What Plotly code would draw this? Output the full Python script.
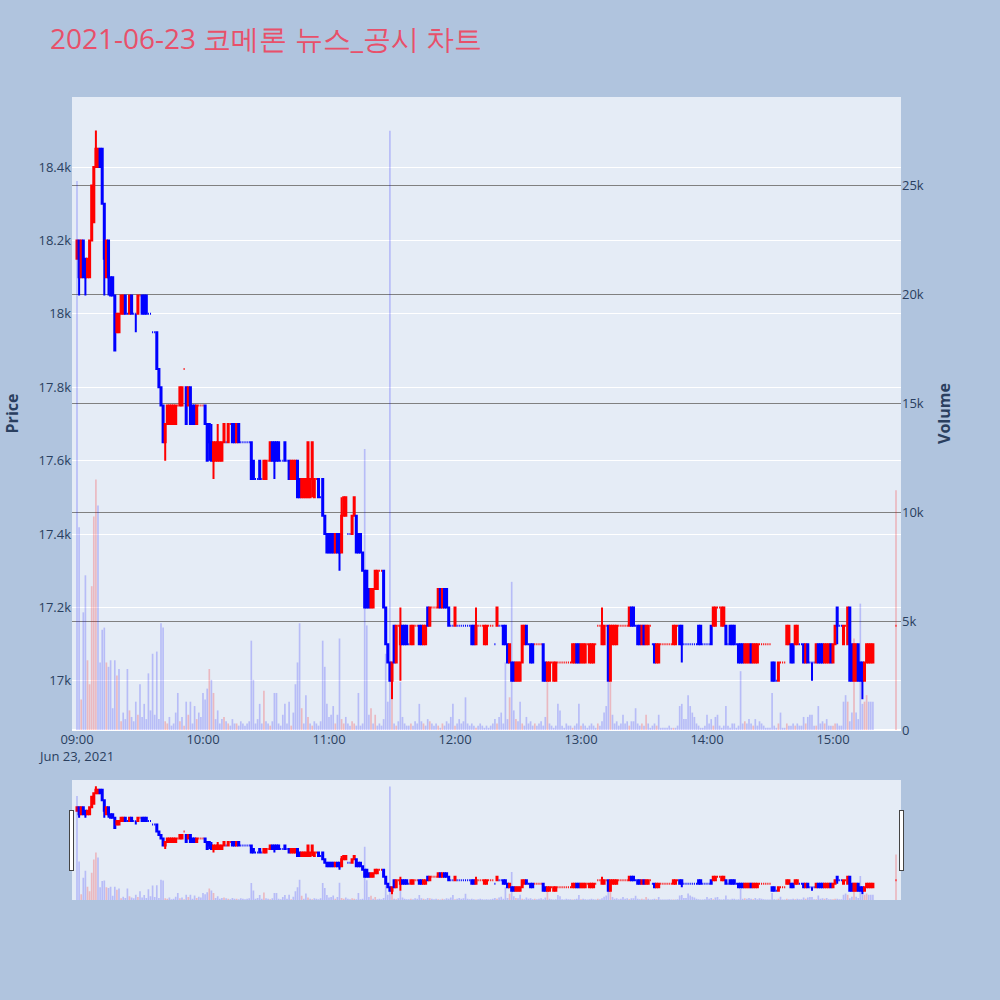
import pandas as pd
import plotly.graph_objects as go
from plotly.subplots import make_subplots

# ---------------- data (1-minute candles, 2021-06-23) ----------------
minute_times = list(pd.date_range("2021-06-23 09:00", "2021-06-23 15:19", freq="min")) + [pd.Timestamp("2021-06-23 15:30")]

opens = [
    18150,18200,18100,18200,18150,18100,18100,18200,18250,18400,
    18400,18450,18450,18300,18100,18200,18100,18100,18050,17950,
    17950,18000,18000,18050,18000,18000,18050,18000,18000,18000,
    18050,18050,18050,18050,18000,18000,17950,17950,17950,17850,
    17800,17750,17650,17700,17700,17700,17700,17700,17750,17750,
    17750,17850,17800,17750,17800,17750,17750,17700,17750,17750,
    17750,17750,17700,17700,17650,17600,17600,17600,17600,17600,
    17650,17650,17650,17700,17700,17700,17650,17700,17650,17650,
    17650,17650,17650,17650,17600,17550,17550,17600,17550,17550,
    17550,17600,17600,17650,17650,17650,17650,17600,17600,17650,
    17600,17600,17550,17550,17550,17600,17550,17500,17500,17500,
    17500,17500,17550,17500,17550,17550,17500,17550,17450,17400,
    17400,17400,17400,17350,17400,17400,17350,17450,17450,17400,
    17400,17400,17450,17450,17400,17400,17350,17300,17300,17250,
    17200,17200,17250,17250,17300,17300,17300,17200,17100,17050,
    17000,17150,17050,17150,17100,17150,17150,17150,17100,17100,
    17100,17150,17150,17150,17150,17100,17100,17200,17150,17200,
    17200,17200,17200,17250,17200,17250,17250,17200,17150,17150,
    17150,17150,17150,17150,17150,17150,17150,17150,17150,17150,
    17100,17150,17150,17150,17100,17100,17150,17150,17150,17100,
    17150,17150,17150,17150,17150,17100,17050,17050,17050,17000,
    17000,17000,17050,17100,17150,17100,17100,17100,17100,17100,
    17100,17100,17100,17050,17000,17000,17050,17000,17000,17050,
    17050,17050,17050,17050,17050,17050,17050,17050,17100,17100,
    17050,17050,17050,17100,17050,17050,17050,17100,17150,17150,
    17100,17100,17150,17150,17000,17100,17100,17100,17150,17150,
    17150,17150,17150,17150,17200,17200,17150,17150,17150,17100,
    17150,17100,17100,17150,17100,17100,17050,17050,17100,17100,
    17100,17100,17100,17100,17100,17100,17150,17150,17150,17100,
    17100,17100,17100,17100,17100,17100,17150,17150,17100,17100,
    17100,17100,17150,17150,17150,17200,17200,17150,17150,17150,
    17100,17150,17150,17150,17100,17100,17100,17100,17050,17050,
    17050,17100,17050,17050,17050,17100,17100,17100,17100,17100,
    17100,17050,17050,17000,17000,17050,17050,17050,17100,17100,
    17100,17100,17100,17100,17100,17100,17100,17050,17100,17050,
    17050,17050,17050,17100,17100,17100,17050,17050,17050,17100,
    17050,17100,17200,17150,17150,17100,17150,17100,17200,17100,
    17000,17000,17100,17050,17050,17000,17050,17050,17050,17050,
    17150,
]

highs = [
    18200,18200,18200,18200,18150,18150,18200,18350,18400,18500,
    18450,18450,18450,18300,18200,18200,18100,18100,18050,18000,
    18000,18050,18050,18050,18000,18050,18050,18000,18000,18050,
    18050,18050,18050,18050,18000,18000,17950,17950,17950,17850,
    17800,17750,17700,17750,17750,17750,17750,17750,17750,17800,
    17800,17850,17800,17800,17800,17750,17750,17750,17750,17750,
    17750,17750,17700,17700,17700,17650,17650,17700,17650,17650,
    17700,17650,17700,17700,17700,17700,17700,17700,17650,17650,
    17650,17650,17650,17650,17600,17550,17550,17600,17550,17600,
    17600,17600,17650,17650,17650,17650,17650,17600,17600,17650,
    17600,17600,17600,17600,17600,17600,17550,17550,17550,17550,
    17650,17550,17650,17550,17550,17550,17500,17550,17450,17400,
    17400,17400,17400,17400,17400,17400,17500,17500,17500,17400,
    17400,17450,17500,17450,17400,17400,17350,17300,17300,17250,
    17250,17250,17300,17300,17300,17300,17300,17200,17100,17050,
    17050,17150,17150,17150,17200,17150,17150,17150,17100,17150,
    17150,17150,17150,17150,17150,17150,17150,17200,17200,17200,
    17200,17200,17250,17250,17250,17250,17250,17200,17150,17150,
    17200,17150,17150,17150,17150,17150,17150,17150,17150,17150,
    17200,17150,17150,17150,17150,17150,17150,17150,17150,17100,
    17200,17150,17150,17150,17150,17100,17100,17050,17050,17050,
    17050,17050,17150,17150,17150,17100,17100,17100,17100,17100,
    17100,17100,17100,17050,17050,17050,17050,17050,17050,17050,
    17050,17050,17050,17050,17050,17050,17100,17100,17100,17100,
    17100,17100,17100,17100,17100,17100,17100,17100,17150,17150,
    17200,17150,17150,17150,17150,17150,17150,17150,17150,17150,
    17150,17150,17150,17200,17200,17200,17150,17150,17150,17150,
    17150,17150,17150,17150,17100,17100,17100,17100,17100,17100,
    17100,17100,17100,17100,17150,17150,17150,17150,17150,17100,
    17100,17100,17100,17100,17100,17100,17150,17150,17100,17100,
    17100,17100,17150,17200,17200,17200,17200,17200,17200,17150,
    17100,17150,17150,17150,17100,17100,17100,17100,17100,17100,
    17100,17100,17100,17100,17100,17100,17100,17100,17100,17100,
    17100,17050,17050,17000,17050,17050,17050,17050,17150,17150,
    17100,17100,17150,17150,17100,17100,17100,17100,17100,17050,
    17050,17050,17100,17100,17100,17100,17100,17100,17100,17100,
    17100,17150,17200,17150,17150,17150,17150,17200,17200,17100,
    17100,17100,17100,17050,17050,17050,17100,17100,17100,17100,
    17150,
]

lows = [
    18150,18050,18100,18100,18050,18100,18100,18200,18250,18400,
    18400,18400,18300,18050,18100,18050,18050,18050,17900,17950,
    17950,18000,18000,18000,18000,18000,18000,18000,17950,18000,
    18050,18000,18000,18000,18000,18000,17950,17950,17850,17800,
    17750,17650,17600,17700,17700,17700,17700,17700,17750,17750,
    17750,17850,17700,17750,17700,17700,17700,17700,17750,17750,
    17750,17700,17600,17600,17600,17550,17600,17600,17600,17600,
    17650,17650,17650,17700,17650,17650,17650,17650,17650,17650,
    17650,17650,17650,17550,17550,17550,17550,17550,17550,17550,
    17550,17600,17600,17600,17550,17600,17600,17600,17600,17600,
    17600,17550,17550,17550,17550,17500,17500,17500,17500,17500,
    17500,17500,17500,17500,17550,17500,17500,17450,17400,17350,
    17350,17350,17350,17350,17350,17300,17350,17450,17450,17400,
    17400,17400,17450,17350,17350,17350,17300,17200,17200,17200,
    17200,17200,17250,17250,17300,17300,17200,17100,17050,17000,
    16950,17050,17050,17150,17000,17100,17100,17100,17100,17100,
    17100,17150,17150,17100,17100,17100,17100,17150,17150,17200,
    17200,17200,17200,17200,17200,17200,17200,17150,17150,17150,
    17150,17150,17150,17150,17150,17150,17150,17150,17100,17100,
    17100,17150,17150,17150,17100,17100,17150,17150,17150,17100,
    17150,17150,17150,17100,17100,17050,17050,17000,17000,17000,
    17000,17000,17050,17100,17100,17100,17050,17050,17100,17100,
    17100,17100,17000,17000,17000,17000,17050,17000,17000,17050,
    17050,17050,17050,17050,17050,17050,17050,17050,17050,17050,
    17050,17050,17050,17100,17050,17050,17050,17100,17150,17150,
    17100,17100,17150,17000,17000,17100,17100,17100,17150,17150,
    17150,17150,17150,17150,17150,17150,17150,17100,17100,17100,
    17100,17100,17100,17150,17100,17050,17050,17050,17100,17100,
    17100,17100,17100,17100,17100,17100,17150,17100,17050,17100,
    17100,17100,17100,17100,17100,17100,17100,17100,17100,17100,
    17100,17100,17100,17150,17150,17200,17200,17150,17150,17100,
    17100,17100,17100,17100,17100,17050,17050,17050,17050,17050,
    17050,17050,17050,17050,17050,17100,17100,17100,17100,17100,
    17100,17000,17000,17000,17000,17050,17050,17050,17100,17100,
    17050,17050,17100,17100,17100,17100,17050,17050,17050,17050,
    17000,17050,17050,17050,17050,17050,17050,17050,17050,17050,
    17050,17100,17100,17150,17150,17100,17150,17100,17000,17000,
    17000,17000,17000,17000,16950,17000,17050,17050,17050,17050,
    17150,
]

closes = [
    18200,18100,18200,18100,18100,18150,18200,18350,18400,18450,
    18450,18400,18300,18150,18200,18100,18050,18050,17900,18000,
    18000,18050,18050,18000,18000,18050,18000,18000,18000,18050,
    18050,18000,18000,18000,18000,18000,17950,17950,17850,17800,
    17750,17650,17700,17750,17750,17750,17750,17750,17750,17800,
    17800,17850,17700,17800,17700,17700,17700,17750,17750,17750,
    17750,17700,17600,17650,17600,17650,17650,17650,17650,17650,
    17700,17650,17700,17700,17650,17650,17700,17650,17650,17650,
    17650,17650,17650,17550,17550,17550,17550,17550,17550,17600,
    17600,17600,17650,17600,17600,17600,17600,17600,17600,17600,
    17600,17550,17600,17600,17600,17500,17500,17550,17550,17550,
    17650,17550,17650,17550,17550,17500,17500,17450,17400,17350,
    17350,17350,17350,17400,17350,17350,17450,17500,17500,17400,
    17400,17450,17500,17350,17350,17350,17300,17200,17200,17200,
    17250,17250,17300,17300,17300,17300,17200,17100,17050,17000,
    17050,17050,17150,17150,17150,17100,17100,17100,17100,17150,
    17150,17150,17150,17100,17100,17150,17150,17150,17200,17200,
    17200,17200,17250,17200,17250,17200,17200,17150,17150,17150,
    17200,17150,17150,17150,17150,17150,17150,17150,17100,17100,
    17150,17150,17150,17150,17150,17150,17150,17150,17150,17100,
    17200,17150,17150,17100,17100,17050,17100,17000,17000,17050,
    17050,17050,17150,17150,17100,17100,17050,17050,17100,17100,
    17100,17100,17000,17000,17050,17050,17050,17050,17050,17050,
    17050,17050,17050,17050,17050,17050,17100,17100,17050,17050,
    17100,17100,17100,17100,17100,17100,17100,17100,17150,17150,
    17150,17150,17150,17000,17150,17150,17150,17150,17150,17150,
    17150,17150,17150,17200,17150,17150,17150,17100,17100,17150,
    17100,17150,17150,17150,17100,17050,17100,17100,17100,17100,
    17100,17100,17100,17100,17150,17150,17150,17100,17100,17100,
    17100,17100,17100,17100,17100,17100,17100,17100,17100,17100,
    17100,17100,17100,17200,17200,17200,17200,17200,17200,17100,
    17100,17100,17100,17100,17100,17050,17050,17050,17100,17100,
    17100,17050,17100,17100,17100,17100,17100,17100,17100,17100,
    17100,17000,17000,17000,17050,17050,17050,17050,17150,17150,
    17050,17050,17150,17150,17100,17100,17050,17100,17050,17050,
    17050,17050,17100,17050,17050,17050,17100,17100,17100,17050,
    17100,17150,17150,17150,17150,17150,17150,17200,17000,17000,
    17100,17100,17000,17000,17000,17050,17100,17100,17100,17100,
    17150,
]

volumes = [
    25200,9300,1400,5400,7100,3200,2100,6600,9800,11500,
    10300,3100,4600,4700,3100,2900,3200,1000,3200,2500,
    2800,400,800,500,2800,900,600,400,1300,700,
    2100,600,1200,500,2600,900,3500,700,3600,500,
    4900,4700,400,300,600,200,300,800,1700,400,
    600,200,1300,700,1300,300,1100,500,800,600,
    1700,1400,1900,2800,2300,1700,500,900,300,500,
    600,400,300,200,500,300,300,200,400,300,
    200,300,400,4100,2300,300,500,1200,300,1800,
    400,300,200,400,1700,1700,300,200,700,1200,
    300,1300,200,800,2100,3100,4900,1000,300,1600,
    600,300,200,400,300,200,400,4100,2900,1200,
    600,700,1100,300,700,4200,500,300,600,300,
    200,400,300,200,1700,200,300,12900,4800,700,
    1000,300,700,200,300,200,500,3500,1300,27500,
    1400,300,200,400,2200,600,300,200,200,300,
    200,400,300,1200,400,300,200,500,400,300,
    200,300,200,100,300,200,400,300,600,1200,
    200,300,500,300,400,1500,300,200,300,200,
    100,200,300,200,100,200,100,200,300,500,
    300,600,800,300,3100,500,1500,6800,900,500,
    400,1300,300,200,600,300,400,200,300,200,
    300,400,200,600,2200,300,200,100,200,1200,
    900,200,100,300,200,200,100,200,300,1200,
    200,300,200,100,200,300,200,100,300,200,
    400,800,1100,2200,2200,700,300,400,200,300,
    700,300,400,200,400,400,1000,300,200,300,
    200,700,300,100,200,300,200,700,100,100,
    100,100,200,100,100,100,200,1100,1200,500,
    500,1600,1100,800,600,300,200,100,100,200,
    700,300,500,200,600,700,200,100,200,1100,
    200,100,300,300,100,200,2700,300,400,300,
    500,300,200,500,200,400,300,200,100,100,
    100,1700,200,100,300,800,100,100,300,200,
    200,300,200,300,200,200,600,300,600,700,
    700,200,200,1100,300,400,300,500,200,200,
    200,300,300,200,200,1300,1600,1300,400,800,
    4200,800,500,5800,1200,1300,1600,1300,1300,1300,
    11000,
]

TITLE = "2021-06-23 코메론 뉴스_공시 차트"
X_RANGE = ["2021-06-23 08:57:37", "2021-06-23 15:32:23"]

# volume colour: up vs previous close -> red, otherwise blue
vol_colors = []
prev = None
for c in closes:
    up = prev is not None and c > prev
    vol_colors.append("rgba(255,0,0,0.22)" if up else "rgba(0,0,255,0.2)")
    prev = c

fig = make_subplots(specs=[[{"secondary_y": True}]])
fig.add_trace(
    go.Candlestick(
        x=minute_times, open=opens, high=highs, low=lows, close=closes,
        increasing=dict(line=dict(color="red", width=2), fillcolor="red"),
        decreasing=dict(line=dict(color="blue", width=2), fillcolor="blue"),
        showlegend=False, name="Price",
    ),
    secondary_y=False,
)
fig.add_trace(
    go.Bar(x=minute_times, y=volumes, marker=dict(color=vol_colors, line=dict(width=0)),
           showlegend=False, name="Volume"),
    secondary_y=True,
)

fig.update_layout(
    width=1000, height=1000,
    font=dict(size=13),
    paper_bgcolor="#B0C4DE",
    plot_bgcolor="#E5ECF6",
    margin=dict(l=72, r=99, t=97, b=100),
    title=dict(text=TITLE, x=0.05, font=dict(size=28, color="#E8506A")),
    showlegend=False,
)
fig.update_xaxes(showgrid=False, automargin=False, range=X_RANGE, domain=[0, 1],
                 rangeslider=dict(visible=True))
fig.update_yaxes(title_text="<b>Price</b>", title_font=dict(size=16), range=[16866, 18591],
                 automargin=False, secondary_y=False)
fig.update_yaxes(title_text="<b>Volume</b>", title_font=dict(size=16), range=[0, 29050],
                 gridcolor="gray", automargin=False, secondary_y=True)

fig.write_html("out.html", config={"displayModeBar": False},
               post_script="document.body.style.margin='0';")
